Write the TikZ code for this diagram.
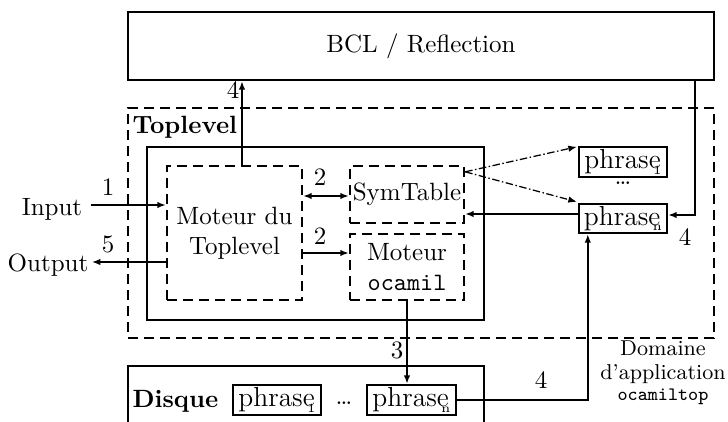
\documentclass[tikz,border=0pt]{standalone}
\usetikzlibrary{arrows.meta,calc}
\newcommand{\phsub}[1]{phrase\kern-0.28em\raisebox{-0.45ex}{\tiny #1}}
\begin{document}
\begin{tikzpicture}[x=0.4pt,y=-0.4pt,
  solidbox/.style={draw,line width=0.95pt,inner sep=0pt},
  dbox/.style={draw,line width=0.95pt,dash pattern=on 4pt off 2.4pt,inner sep=0pt},
  arr/.style={line width=0.9pt,-{Latex[length=3.4pt,width=2.6pt]}},
  darr/.style={line width=0.9pt,{Latex[length=3.4pt,width=2.6pt]}-{Latex[length=3.4pt,width=2.6pt]}},
  ddarr/.style={line width=0.5pt,dash pattern=on 3pt off 1pt on 0.6pt off 1pt,-{Latex[length=3.4pt,width=2.6pt]}},
  lbl/.style={inner sep=0pt},
  ph/.style={solidbox,minimum width=88*0.4pt,minimum height=30*0.4pt,font=\fontsize{11}{13}\selectfont}]
\useasboundingbox (0,0) rectangle (728,421);
% top boxes
\node[solidbox,minimum width=586*0.4pt,minimum height=68*0.4pt] (bcl) at (421,46) {BCL / Reflection};
\node[dbox,minimum width=586*0.4pt,minimum height=230*0.4pt] (top) at (421,223) {};
\node[lbl,anchor=north west,font=\bfseries] (toplbl) at (132,116) {Toplevel};
\node[solidbox,minimum width=337*0.4pt,minimum height=173*0.4pt] (inner) at (315.5,233.5) {};
\node[dbox,minimum width=135*0.4pt,minimum height=134*0.4pt,align=center] (mdt) at (234.5,233) {Moteur du\\Toplevel};
\node[dbox,minimum width=114*0.4pt,minimum height=57*0.4pt] (sym) at (407,194.5) {SymTable};
\node[dbox,minimum width=114*0.4pt,minimum height=66*0.4pt,align=center] (moc) at (407,267) {Moteur\\\texttt{ocamil}};
\node[ph] (p1) at (623,162) {\phsub{1}};
\node[lbl] (dots) at (623,183) {\dots};
\node[ph,minimum height=29*0.4pt] (pn) at (623,218.5) {\phsub{n}};
% disk
\node[solidbox,minimum width=356*0.4pt,minimum height=68*0.4pt] (disk) at (306,400) {};
\node[lbl,anchor=west,font=\bfseries] (disklbl) at (132,401) {Disque};
\node[ph] (dp1) at (277,400) {\phsub{1}};
\node[lbl] (ddots) at (344,403) {\dots};
\node[ph,minimum width=89*0.4pt] (dpn) at (411.5,400) {\phsub{n}};
% outside labels
\node[lbl] (in) at (52,209) {Input};
\node[lbl] (out) at (48,265) {Output};
\node[lbl,align=center,font=\fontsize{8.6}{9.6}\selectfont] (dom) at (663,373) {Domaine\\d'application\\[-1pt]{\fontsize{7.6}{9}\ttfamily ocamiltop}};
% connectors
\draw[arr] ($(in.east)+(8,-4)$) -- ($(mdt.west |- in.east)+(0,-4)$);
\node[lbl] (l1) at (108,187) {1};
\draw[arr] ($(mdt.west |- out.east)+(0,-3)$) -- ($(out.east)+(3,-3)$);
\node[lbl] (l5) at (108,244) {5};
\path (mdt.north) ++(7.5,0) coordinate (up4);
\draw[arr] (up4) -- (up4 |- bcl.south);
\node[lbl] (l4a) at (233,90) {4};
\draw[darr] ($(mdt.east |- sym.west)+(0,1.5)$) -- ($(sym.west)+(0,1.5)$);
\node[lbl] (l2a) at (320,177) {2};
\path (moc.west) ++(0,-14) coordinate (m2);
\draw[arr] (mdt.east |- m2) -- (m2);
\node[lbl] (l2b) at (320,236) {2};
\draw[arr] (moc.south) -- (moc.south |- dpn.north);
\node[lbl] (l3) at (397,350) {3};
\path (pn.south west) ++(10,0) coordinate (pnb);
\draw[arr] (dpn.east) -| (pnb);
\node[lbl] (l4b) at (541,380) {4};
\path (bcl.south east) ++(-20,0) coordinate (bclr);
\path (pn.east) ++(0,-3.5) coordinate (pne);
\draw[arr] (bclr) |- (pne);
\node[lbl] (l4c) at (685,237) {4};
\path (pn.west) ++(0,-4.5) coordinate (pnw);
\draw[arr] (pnw) -- (sym.east |- pnw);
\path (sym.north east) ++(0,7) coordinate (se);
\draw[ddarr] (se) -- ($(p1.north west)+(-1,1)$);
\draw[ddarr] (se) -- ($(pn.north west)+(-1,-1)$);
\end{tikzpicture}
\end{document}
